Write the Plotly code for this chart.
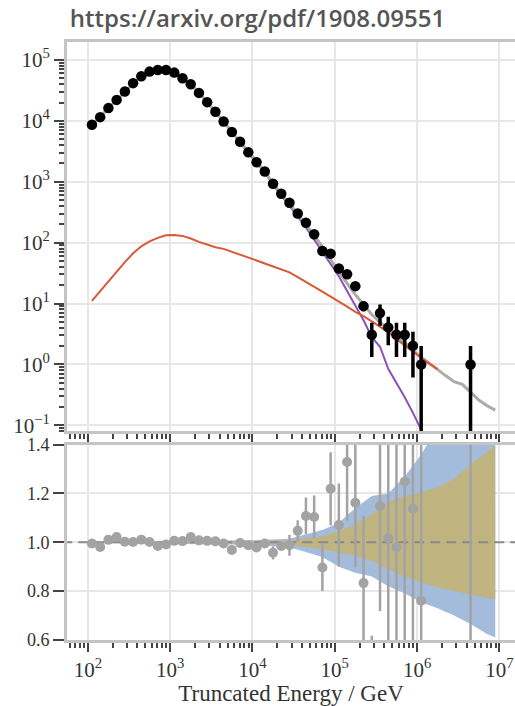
import plotly.graph_objects as go

# ---------------- data ----------------
# log10 of bin-centre truncated energy (GeV)
bin_log10E = [2.05, 2.15, 2.25, 2.35, 2.45, 2.55, 2.65, 2.75, 2.85, 2.95,
              3.05, 3.15, 3.25, 3.35, 3.45, 3.55, 3.65, 3.75, 3.85, 3.95,
              4.05, 4.15, 4.25, 4.35, 4.45, 4.55, 4.65, 4.75, 4.85, 4.95,
              5.05, 5.15, 5.25, 5.35, 5.45, 5.55, 5.65, 5.75, 5.85, 5.95,
              6.05, 6.15, 6.25, 6.35, 6.45, 6.55, 6.65, 6.75, 6.85, 6.95]

# experimental data points (black) and ratio (grey)
data_log10E = [2.05, 2.15, 2.25, 2.35, 2.45, 2.55, 2.65, 2.75, 2.85, 2.95,
               3.05, 3.15, 3.25, 3.35, 3.45, 3.55, 3.65, 3.75, 3.85, 3.95,
               4.05, 4.15, 4.25, 4.35, 4.45, 4.55, 4.65, 4.75, 4.85, 4.95,
               5.05, 5.15, 5.25, 5.35, 5.45, 5.55, 5.65, 5.75, 5.85, 5.95,
               6.05, 6.65]
data_rate = [8630, 11500, 16200, 22100, 30300, 41600, 54100, 64400, 68500, 68500,
             62000, 50100, 40000, 28800, 20300, 14100, 9780, 6560, 4550, 3040,
             2090, 1470, 925, 634, 452, 302, 212, 137, 73, 66,
             37.6, 30.3, 19.3, 9.06, 3.07, 6.96, 4.06, 3.07, 3.07, 2.03,
             1.0, 1.0]
data_err_up = [0, 0, 0, 0, 0, 0, 0, 0, 0, 0,
               0, 0, 0, 0, 0, 0, 0, 0, 0, 0,
               0, 0, 0, 0, 0, 0, 0, 0, 4, 4,
               3.5, 3, 2.5, 1.7, 1.75, 2.64, 2.0, 1.75, 1.75, 1.42,
               1.0, 1.0]
data_err_dn = [0, 0, 0, 0, 0, 0, 0, 0, 0, 0,
               0, 0, 0, 0, 0, 0, 0, 0, 0, 0,
               0, 0, 0, 0, 0, 0, 0, 0, 4, 4,
               3.5, 3, 2.5, 1.6, 1.75, 2.64, 2.0, 1.75, 1.75, 1.42,
               0.999, 0.999]

# simulation: total (grey), conventional (purple), other component (red)
mc_total = [8700, 11600, 16100, 22000, 30000, 41000, 53500, 64000, 68500, 68500,
            62000, 50500, 40000, 29000, 20300, 14000, 9800, 6600, 4550, 3050,
            2080, 1470, 940, 640, 450, 295, 200, 132, 85, 52,
            33, 21.5, 14, 9.8, 6.6, 4.9, 3.8, 2.95, 2.25, 1.7,
            1.3, 1.05, 0.82, 0.65, 0.52, 0.47, 0.35, 0.26, 0.21, 0.178]
mc_conv = [8690, 11580, 16080, 21970, 29950, 40930, 53410, 63900, 68380, 68370,
           61870, 50370, 39880, 28900, 20210, 13920, 9720, 6530, 4490, 2990,
           2030, 1425, 900, 604, 418, 268, 178, 113, 70, 44,
           28, 16, 9.0, 5.3, 2.8, 1.95, 0.85, 0.5, 0.29, 0.16,
           0.085, 0.045]
mc_other = [11.1, 16.1, 23.2, 33.3, 47.8, 66.8, 87, 105, 120, 132,
            134, 129, 117, 103, 92.7, 84, 79, 71.3, 64.2, 57.5,
            51, 45.5, 40.8, 36.4, 32.5, 27.2, 22.8, 19.3, 15.7, 13,
            10.6, 8.9, 7.3, 6.2, 5.1, 4.2, 3.4, 2.6, 2.05, 1.6,
            1.25, 1.02, 0.84]

ratio = [0.995, 0.981, 1.010, 1.022, 1.002, 1.001, 1.011, 1.001, 0.985, 0.991,
         1.006, 1.005, 1.022, 1.008, 1.006, 1.004, 0.995, 0.969, 0.997, 0.988,
         0.979, 0.995, 0.957, 0.985, 0.988, 1.047, 1.108, 1.104, 0.897, 1.219,
         1.071, 1.329, 1.162, 0.833, 0.45, 1.149, 1.017, 0.979, 1.249, 1.138,
         0.761, 3.0]
ratio_err = [0.004, 0.004, 0.004, 0.004, 0.004, 0.004, 0.004, 0.004, 0.004, 0.004,
             0.004, 0.004, 0.004, 0.004, 0.004, 0.004, 0.004, 0.012, 0.008, 0.01,
             0.012, 0.015, 0.027, 0.015, 0.043, 0.043, 0.075, 0.088, 0.097, 0.15,
             0.17, 0.24, 0.265, 0.275, 0.168, 0.43, 0.7, 0.7, 0.7, 0.8,
             0.8, 3.0]

# uncertainty bands in the ratio panel
band_log10E = [2.0, 3.0, 4.0, 4.45, 4.85, 5.05, 5.25, 5.45, 5.65, 5.85,
               6.05, 6.25, 6.45, 6.65, 6.85, 6.95]
blue_hi = [1.003, 1.005, 1.008, 1.015, 1.05, 1.08, 1.14, 1.19, 1.2, 1.27,
           1.36, 1.47, 1.58, 1.68, 1.78, 1.85]
blue_lo = [0.997, 0.995, 0.99, 0.98, 0.94, 0.9, 0.875, 0.86, 0.82, 0.79,
           0.755, 0.73, 0.7, 0.665, 0.625, 0.61]
olive_hi = [1.002, 1.003, 1.005, 1.007, 1.025, 1.045, 1.075, 1.115, 1.165, 1.19,
            1.205, 1.225, 1.26, 1.32, 1.37, 1.395]
olive_lo = [0.998, 0.997, 0.995, 0.99, 0.972, 0.958, 0.945, 0.925, 0.89, 0.86,
            0.835, 0.815, 0.8, 0.785, 0.772, 0.767]

x_decades = [2, 3, 4, 5, 6, 7]
y_decades = [-1, 0, 1, 2, 3, 4, 5]
ratio_ticks = [0.6, 0.8, 1.0, 1.2, 1.4]

# ---------------- helpers ----------------
def E(logs):
    return [10 ** v for v in logs]

def sup(n):
    s = str(n).replace("-", "\u2212")
    return "10<sup>" + s + "</sup>"

x_minor = [k * 10 ** d for d in range(1, 8) for k in range(2, 10)]
y_minor = [k * 10 ** d for d in range(-2, 6) for k in range(2, 10)]

SERIF = "Liberation Serif"
SPINE = "#c4c4c4"
GRID = "#e7e7e7"
TICK = "#444444"

fig = go.Figure()

# ---- top panel ----
fig.add_trace(go.Scatter(x=E(bin_log10E[:len(mc_conv)]), y=mc_conv, mode="lines",
                         line=dict(color="#8c50b8", width=2), xaxis="x", yaxis="y"))
fig.add_trace(go.Scatter(x=E(bin_log10E[:len(mc_total)]), y=mc_total, mode="lines",
                         line=dict(color="#ababab", width=3), xaxis="x", yaxis="y"))
fig.add_trace(go.Scatter(x=E(bin_log10E[:len(mc_other)]), y=mc_other, mode="lines",
                         line=dict(color="#db5837", width=2), xaxis="x", yaxis="y"))
fig.add_trace(go.Scatter(x=E(data_log10E), y=data_rate, mode="markers",
                         marker=dict(color="black", size=10.5),
                         error_y=dict(type="data", array=data_err_up, arrayminus=data_err_dn,
                                      color="black", thickness=3.5, width=0),
                         xaxis="x", yaxis="y"))

# ---- bottom panel ----
fig.add_trace(go.Scatter(x=E(band_log10E), y=blue_lo, mode="lines", line=dict(width=0),
                         xaxis="x2", yaxis="y2", hoverinfo="skip"))
fig.add_trace(go.Scatter(x=E(band_log10E), y=blue_hi, mode="lines", line=dict(width=0),
                         fill="tonexty", fillcolor="rgb(163,188,219)",
                         xaxis="x2", yaxis="y2", hoverinfo="skip"))
fig.add_trace(go.Scatter(x=E(band_log10E), y=olive_lo, mode="lines", line=dict(width=0),
                         xaxis="x2", yaxis="y2", hoverinfo="skip"))
fig.add_trace(go.Scatter(x=E(band_log10E), y=olive_hi, mode="lines", line=dict(width=0),
                         fill="tonexty", fillcolor="rgb(192,180,128)",
                         xaxis="x2", yaxis="y2", hoverinfo="skip"))
fig.add_trace(go.Scatter(x=[20, 5e7], y=[1, 1], mode="lines",
                         line=dict(color="#8a8a8a", width=2, dash="10px,6px"),
                         xaxis="x2", yaxis="y2"))
fig.add_trace(go.Scatter(x=E(data_log10E), y=ratio, mode="markers",
                         marker=dict(color="#a3a3a3", size=10),
                         error_y=dict(type="data", array=ratio_err, color="#a3a3a3",
                                      thickness=2.5, width=0),
                         xaxis="x2", yaxis="y2"))

x_common = dict(type="log", range=[1.747, 7.19], showline=True, linecolor=SPINE,
                linewidth=3, mirror=True, showgrid=True, gridcolor=GRID, gridwidth=1.5,
                ticks="outside", ticklen=9, tickwidth=2, tickcolor=TICK,
                tickmode="array", tickvals=E(x_decades),
                minor=dict(tickmode="array", tickvals=x_minor, ticks="outside",
                           ticklen=5, tickwidth=1.5, tickcolor=TICK, showgrid=False),
                zeroline=False)

fig.update_layout(
    width=515, height=706,
    margin=dict(l=67, r=0, t=42, b=64),
    paper_bgcolor="white", plot_bgcolor="white",
    showlegend=False,
    title=dict(text="https://arxiv.org/pdf/1908.09551", x=0.5, xanchor="center",
               y=0.973, yanchor="middle",
               font=dict(family="Open Sans", size=24, color="#555555", weight=600)),
    xaxis=dict(**x_common, anchor="y", domain=[0, 1], showticklabels=False),
    xaxis2=dict(**x_common, anchor="y2", domain=[0, 1], matches="x",
                ticktext=[sup(d) for d in x_decades],
                tickfont=dict(family=SERIF, size=21, color="#333333"),
                title=dict(text="Truncated Energy / GeV",
                           font=dict(family=SERIF, size=23, color="#333333"),
                           standoff=8)),
    yaxis=dict(type="log", domain=[0.3488, 1], range=[-1.1, 5.295], anchor="x",
               showline=True, linecolor=SPINE, linewidth=3,
               showgrid=True, gridcolor=GRID, gridwidth=1.5,
               ticks="outside", ticklen=10, tickwidth=2, tickcolor=TICK,
               tickmode="array", tickvals=E(y_decades),
               ticktext=[sup(d) for d in y_decades],
               tickfont=dict(family=SERIF, size=21, color="#333333"),
               minor=dict(tickmode="array", tickvals=y_minor, ticks="outside",
                          ticklen=5, tickwidth=1.5, tickcolor=TICK, showgrid=False),
               zeroline=False),
    yaxis2=dict(domain=[0, 0.3267], range=[0.6, 1.4], anchor="x2",
                showline=True, linecolor=SPINE, linewidth=3,
                showgrid=True, gridcolor=GRID, gridwidth=1.5,
                ticks="outside", ticklen=11, tickwidth=2, tickcolor=TICK,
                tickmode="array", tickvals=ratio_ticks,
                ticktext=["%.1f" % v for v in ratio_ticks],
                tickfont=dict(family=SERIF, size=18, color="#333333"),
                zeroline=False),
)

fig.write_html("out.html")
